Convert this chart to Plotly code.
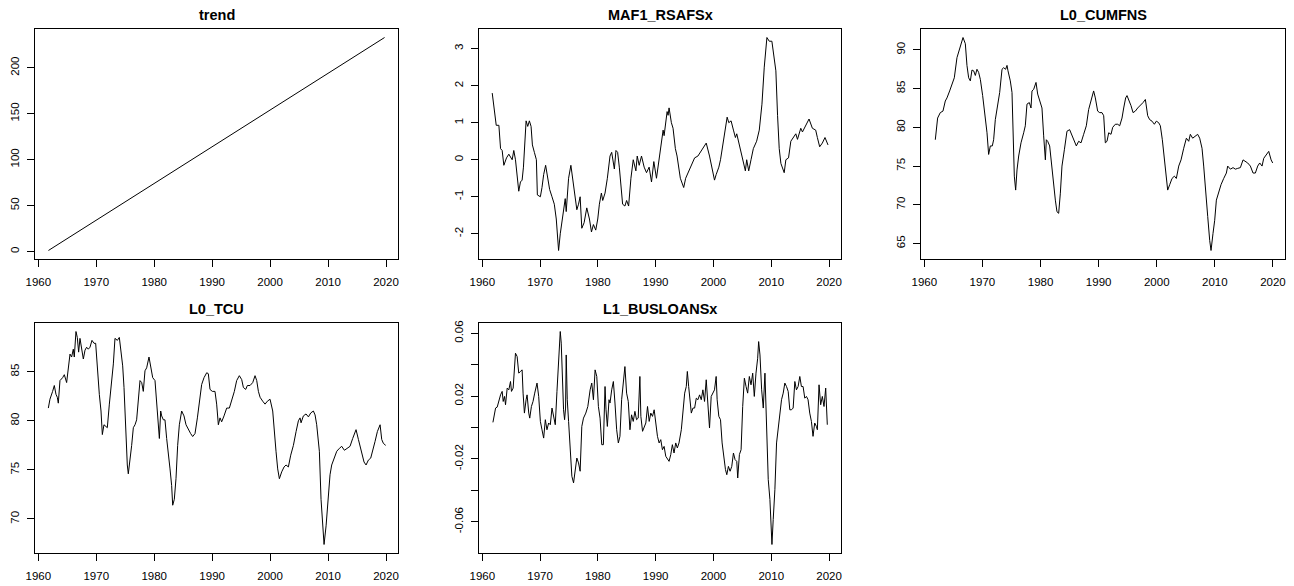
import plotly.graph_objects as go

# ---- data (decimal years, values) ----

# trend: quarterly index 1..233 from 1961Q4
trend_years = [1961.75 + 0.25 * i for i in range(233)]
trend_vals = list(range(1, 234))

maf_years = [1961.72, 1962.12, 1962.41, 1962.87, 1963.16, 1963.44, 1963.73, 1964.19, 1964.59, 1965.17,
             1965.45, 1965.74, 1965.91, 1966.14, 1966.31, 1966.60, 1966.89, 1967.12, 1967.35, 1967.58,
             1967.86, 1968.15, 1968.44, 1968.67, 1969.01, 1969.36, 1969.53, 1970.05, 1970.33, 1970.62,
             1970.96, 1971.31, 1971.65, 1972.06, 1972.46, 1972.80, 1973.03, 1973.20, 1973.49, 1973.83,
             1974.18, 1974.35, 1974.52, 1974.75, 1974.93, 1975.33, 1975.67, 1975.90, 1976.36, 1976.65,
             1976.93, 1977.22, 1977.62, 1978.08, 1978.54, 1978.89, 1979.23, 1979.63, 1979.98, 1980.26,
             1980.61, 1980.84, 1981.24, 1981.64, 1982.10, 1982.39, 1982.85, 1983.13, 1983.42, 1983.71,
             1984.05, 1984.28, 1984.68, 1984.97, 1985.32, 1985.43, 1985.72, 1986.12, 1986.58, 1986.81,
             1987.15, 1987.55, 1988.01, 1988.42, 1988.87, 1989.28, 1989.68, 1990.14, 1990.54, 1990.88,
             1991.29, 1991.46, 1991.86, 1991.98, 1992.15, 1992.32, 1992.72, 1993.01, 1993.41, 1993.70,
             1994.27, 1994.85, 1995.19, 1995.59, 1995.99, 1996.74, 1997.31, 1997.89, 1998.75, 1999.32,
             1999.78, 2000.18, 2000.47, 2000.93, 2001.22, 2001.62, 2001.91, 2002.37, 2002.65, 2003.05,
             2003.46, 2003.80, 2004.03, 2004.60, 2005.06, 2005.52, 2005.75, 2006.10, 2006.50, 2006.90,
             2007.47, 2007.93, 2008.39, 2008.79, 2009.25, 2009.66, 2010.11, 2010.40, 2010.80, 2011.09,
             2011.38, 2011.67, 2011.95, 2012.24, 2012.53, 2012.99, 2013.39, 2013.79, 2014.25, 2014.54,
             2015.11, 2015.40, 2015.97, 2016.54, 2017.12, 2017.69, 2017.98, 2018.38, 2018.84, 2019.30,
             2019.82]
maf_vals = [1.8, 1.2, 0.93, 0.93, 0.3, 0.25, -0.15, 0.05, 0.15, 0.0,
            0.25, 0.0, -0.3, -0.6, -0.85, -0.6, -0.55, -0.2, 0.6, 1.05,
            0.9, 1.05, 0.9, 0.4, 0.2, 0.0, -0.95, -1.0, -0.75, -0.4,
            -0.15, -0.5, -0.8, -1.0, -1.2, -1.6, -2.1, -2.45, -2.0, -1.6,
            -1.2, -1.05, -1.4, -0.9, -0.5, -0.15, -0.6, -0.8, -1.35, -1.2,
            -1.0, -1.85, -1.7, -1.3, -1.6, -1.95, -1.75, -1.9, -1.6, -1.2,
            -0.9, -1.1, -0.9, -0.5, 0.1, 0.2, -0.25, 0.25, 0.2, -0.2,
            -0.8, -1.2, -1.25, -1.1, -1.25, -1.0, -0.5, 0.0, -0.3, 0.1,
            -0.15, 0.1, -0.2, -0.35, -0.2, -0.6, -0.05, -0.5, 0.0, 0.3,
            0.8, 0.65, 1.1, 1.3, 1.2, 1.4, 1.0, 0.85, 0.3, 0.1,
            -0.5, -0.75, -0.5, -0.35, -0.2, 0.05, 0.1, 0.25, 0.45, 0.1,
            -0.3, -0.55, -0.4, -0.2, 0.0, 0.4, 0.6, 1.15, 1.0, 1.05,
            0.8, 0.6, 0.7, 0.3, -0.05, -0.3, 0.0, -0.3, 0.0, 0.3,
            0.5, 0.8, 1.5, 2.5, 3.3, 3.2, 3.2, 2.8, 2.4, 1.2,
            0.3, -0.1, -0.2, -0.35, 0.0, 0.05, 0.5, 0.6, 0.7, 0.55,
            0.85, 0.75, 0.95, 1.1, 0.85, 0.8, 0.6, 0.35, 0.45, 0.6,
            0.4]

cumfns_years = [1961.89, 1962.29, 1962.75, 1963.21, 1963.61, 1963.90, 1964.36, 1964.76, 1965.16, 1965.62,
                1966.02, 1966.37, 1966.66, 1967.06, 1967.34, 1967.63, 1967.92, 1968.20, 1968.49, 1968.78,
                1969.06, 1969.35, 1969.64, 1970.04, 1970.38, 1970.79, 1971.07, 1971.36, 1971.70, 1971.93,
                1972.22, 1972.51, 1972.97, 1973.37, 1973.65, 1974.00, 1974.23, 1974.40, 1974.80, 1975.09,
                1975.26, 1975.49, 1975.72, 1975.95, 1976.24, 1976.64, 1977.10, 1977.38, 1977.67, 1978.07,
                1978.36, 1978.53, 1978.82, 1979.22, 1979.51, 1979.85, 1980.25, 1980.54, 1980.83, 1981.00,
                1981.23, 1981.57, 1981.80, 1982.15, 1982.55, 1982.83, 1983.12, 1983.41, 1983.69, 1984.10,
                1984.55, 1985.01, 1985.42, 1985.82, 1986.16, 1986.56, 1986.97, 1987.42, 1987.88, 1988.28,
                1988.74, 1989.14, 1989.43, 1989.83, 1990.18, 1990.58, 1990.87, 1991.15, 1991.44, 1991.73,
                1992.13, 1992.42, 1992.87, 1993.28, 1993.62, 1994.02, 1994.31, 1994.65, 1994.88, 1995.17,
                1995.57, 1995.92, 1996.32, 1996.72, 1997.18, 1997.64, 1998.04, 1998.44, 1998.78, 1999.18,
                1999.59, 1999.93, 2000.33, 2000.62, 2000.96, 2001.31, 2001.65, 2001.88, 2002.23, 2002.63,
                2003.03, 2003.37, 2003.78, 2004.18, 2004.64, 2005.10, 2005.50, 2005.78, 2006.18, 2006.64,
                2007.04, 2007.39, 2007.79, 2008.08, 2008.37, 2008.77, 2009.11, 2009.34, 2009.68, 2009.97,
                2010.26, 2010.66, 2011.06, 2011.52, 2011.98, 2012.21, 2012.67, 2013.13, 2013.53, 2013.93,
                2014.39, 2014.85, 2015.25, 2015.65, 2016.11, 2016.57, 2016.97, 2017.37, 2017.72, 2018.12,
                2018.41, 2018.87, 2019.27, 2019.68, 2019.95]
cumfns_vals = [78.4, 81.2, 81.9, 82.1, 83.4, 83.8, 84.7, 85.6, 86.4, 89.0,
               89.9, 90.8, 91.6, 90.8, 88.0, 86.4, 86.0, 87.4, 87.3, 86.7,
               87.5, 87.1, 86.2, 84.1, 81.9, 79.3, 76.5, 77.6, 77.6, 78.4,
               81.0, 82.5, 84.5, 87.5, 87.7, 87.5, 88.0, 87.3, 86.0, 84.5,
               79.3, 73.7, 71.9, 74.5, 76.3, 78.0, 79.3, 80.2, 83.0, 83.2,
               82.5, 84.7, 84.9, 85.8, 84.3, 83.4, 82.5, 78.9, 75.8, 78.4,
               78.2, 77.6, 75.8, 73.2, 70.6, 69.1, 68.9, 71.5, 75.0, 77.1,
               79.5, 79.7, 78.9, 78.0, 77.6, 78.2, 78.0, 79.1, 80.2, 82.3,
               83.8, 84.7, 83.8, 82.1, 81.9, 81.9, 81.5, 78.0, 78.2, 79.3,
               79.1, 80.0, 80.4, 80.4, 80.2, 81.2, 82.5, 83.8, 84.1, 83.6,
               82.8, 81.9, 82.1, 82.5, 82.8, 83.2, 83.6, 81.5, 81.0, 80.8,
               80.4, 80.8, 80.6, 80.2, 78.4, 75.8, 73.2, 71.9, 72.6, 73.4,
               73.7, 73.4, 75.0, 75.8, 77.3, 78.6, 78.2, 79.1, 78.6, 78.9,
               79.1, 78.6, 77.3, 75.0, 71.9, 68.5, 65.4, 64.1, 66.3, 68.0,
               70.6, 71.7, 72.6, 73.4, 74.1, 75.0, 74.6, 74.8, 74.6, 74.7,
               74.8, 75.8, 75.6, 75.4, 75.0, 74.1, 74.1, 75.0, 75.4, 75.0,
               76.0, 76.5, 76.9, 75.8, 75.4]

tcu_years = [1961.73, 1962.01, 1962.47, 1962.76, 1963.05, 1963.28, 1963.45, 1963.74, 1964.20, 1964.49,
             1964.89, 1965.18, 1965.47, 1965.75, 1966.04, 1966.21, 1966.50, 1966.73, 1966.96, 1967.19,
             1967.48, 1967.77, 1968.06, 1968.34, 1968.63, 1968.92, 1969.26, 1969.61, 1969.90, 1970.18,
             1970.53, 1970.82, 1971.05, 1971.33, 1971.68, 1971.91, 1972.26, 1972.66, 1972.95, 1973.23,
             1973.64, 1973.98, 1974.21, 1974.56, 1974.79, 1975.07, 1975.36, 1975.53, 1975.82, 1976.11,
             1976.40, 1976.69, 1976.97, 1977.26, 1977.55, 1977.84, 1978.12, 1978.41, 1978.70, 1979.10,
             1979.39, 1979.74, 1980.14, 1980.43, 1980.66, 1980.89, 1981.12, 1981.29, 1981.58, 1981.86,
             1982.15, 1982.44, 1982.73, 1983.01, 1983.19, 1983.47, 1983.76, 1984.05, 1984.34, 1984.74,
             1985.14, 1985.49, 1985.89, 1986.29, 1986.64, 1987.04, 1987.45, 1987.79, 1988.19, 1988.60,
             1989.06, 1989.34, 1989.63, 1990.03, 1990.49, 1990.78, 1991.07, 1991.36, 1991.64, 1992.05,
             1992.51, 1992.97, 1993.37, 1993.83, 1994.23, 1994.69, 1995.10, 1995.39, 1995.79, 1996.08,
             1996.54, 1997.00, 1997.40, 1997.69, 1997.98, 1998.27, 1998.72, 1999.13, 1999.53, 1999.99,
             2000.45, 2000.68, 2001.02, 2001.31, 2001.60, 2002.00, 2002.41, 2002.75, 2003.15, 2003.56,
             2004.02, 2004.48, 2004.88, 2005.17, 2005.34, 2005.74, 2006.20, 2006.61, 2007.01, 2007.47,
             2007.76, 2008.04, 2008.50, 2008.79, 2009.08, 2009.31, 2009.66, 2010.06, 2010.34, 2010.63,
             2011.04, 2011.50, 2011.96, 2012.36, 2012.82, 2013.22, 2013.79, 2014.25, 2014.83, 2015.24,
             2015.81, 2016.21, 2016.56, 2016.96, 2017.36, 2017.71, 2018.11, 2018.51, 2018.98, 2019.26,
             2019.55, 2019.95]
tcu_vals = [81.3, 82.2, 83.0, 83.6, 82.7, 82.4, 81.8, 84.1, 84.4, 84.7,
            83.9, 85.4, 86.8, 86.5, 87.3, 86.5, 89.1, 88.5, 87.0, 88.4,
            87.2, 86.3, 87.2, 87.5, 87.3, 87.5, 88.2, 87.9, 87.9, 85.4,
            82.7, 81.0, 78.6, 79.6, 79.4, 79.3, 81.7, 83.9, 85.8, 88.4,
            88.2, 88.5, 87.3, 85.6, 83.4, 78.9, 75.5, 74.6, 75.8, 77.5,
            79.3, 79.6, 80.1, 82.0, 84.1, 83.9, 83.0, 85.1, 85.4, 86.5,
            85.6, 84.4, 84.1, 82.0, 79.6, 78.2, 81.0, 80.5, 80.1, 80.1,
            78.2, 76.9, 75.1, 73.4, 71.4, 72.0, 74.1, 77.5, 79.6, 81.0,
            80.5, 79.6, 79.1, 78.7, 78.4, 78.7, 80.3, 82.0, 83.7, 84.4,
            84.9, 84.8, 83.2, 83.0, 83.0, 81.7, 79.6, 80.3, 79.9, 80.5,
            81.3, 81.3, 82.0, 83.0, 84.1, 84.6, 84.2, 83.4, 83.2, 83.6,
            83.6, 83.9, 84.6, 84.1, 83.0, 82.4, 82.0, 81.7, 82.0, 82.2,
            81.0, 78.9, 76.9, 75.1, 74.1, 74.8, 75.3, 75.5, 75.3, 76.5,
            77.5, 78.9, 80.0, 80.3, 79.8, 80.5, 80.7, 80.4, 80.8, 81.0,
            80.6, 79.6, 76.9, 72.0, 69.3, 67.4, 69.3, 72.7, 74.5, 75.5,
            76.2, 76.9, 77.2, 77.4, 77.0, 77.2, 77.4, 78.2, 79.1, 78.1,
            76.9, 75.8, 75.5, 76.0, 76.2, 76.9, 77.9, 78.9, 79.6, 78.1,
            77.7, 77.5]

busloans_years = [1961.84, 1962.12, 1962.30, 1962.58, 1962.87, 1963.16, 1963.44, 1963.62, 1963.85, 1964.02,
                  1964.31, 1964.59, 1964.88, 1965.05, 1965.34, 1965.57, 1965.74, 1966.03, 1966.31, 1966.60,
                  1966.89, 1967.06, 1967.29, 1967.58, 1967.75, 1968.04, 1968.21, 1968.50, 1968.78, 1969.07,
                  1969.47, 1969.76, 1970.05, 1970.33, 1970.62, 1970.91, 1971.19, 1971.48, 1971.77, 1972.06,
                  1972.34, 1972.63, 1972.92, 1973.09, 1973.32, 1973.49, 1973.66, 1973.89, 1974.06, 1974.24,
                  1974.41, 1974.52, 1974.70, 1974.93, 1975.21, 1975.50, 1975.79, 1976.07, 1976.36, 1976.65,
                  1976.93, 1977.22, 1977.51, 1977.91, 1978.26, 1978.66, 1978.94, 1979.23, 1979.52, 1979.81,
                  1980.09, 1980.38, 1980.67, 1980.95, 1981.24, 1981.41, 1981.64, 1981.93, 1982.10, 1982.39,
                  1982.68, 1982.96, 1983.25, 1983.54, 1983.82, 1984.11, 1984.40, 1984.68, 1984.97, 1985.26,
                  1985.55, 1985.83, 1986.12, 1986.41, 1986.69, 1986.98, 1987.27, 1987.44, 1987.73, 1988.01,
                  1988.30, 1988.59, 1988.88, 1989.16, 1989.45, 1989.74, 1990.02, 1990.31, 1990.60, 1990.88,
                  1991.17, 1991.46, 1991.75, 1992.03, 1992.32, 1992.61, 1992.89, 1993.18, 1993.47, 1993.75,
                  1994.04, 1994.44, 1994.73, 1995.02, 1995.30, 1995.48, 1995.71, 1995.99, 1996.17, 1996.45,
                  1996.74, 1997.03, 1997.31, 1997.60, 1997.89, 1998.17, 1998.46, 1998.75, 1999.04, 1999.32,
                  1999.61, 1999.90, 2000.18, 2000.47, 2000.64, 2000.93, 2001.22, 2001.50, 2001.79, 2002.08,
                  2002.31, 2002.59, 2002.88, 2003.17, 2003.46, 2003.74, 2004.03, 2004.20, 2004.49, 2004.78,
                  2005.06, 2005.35, 2005.64, 2005.92, 2006.21, 2006.50, 2006.79, 2007.07, 2007.36, 2007.65,
                  2007.82, 2008.05, 2008.34, 2008.62, 2008.91, 2009.20, 2009.48, 2009.77, 2009.94, 2010.12,
                  2010.34, 2010.63, 2010.92, 2011.21, 2011.49, 2011.78, 2012.07, 2012.35, 2012.64, 2012.93,
                  2013.21, 2013.50, 2013.79, 2014.08, 2014.36, 2014.65, 2014.94, 2015.22, 2015.51, 2015.80,
                  2016.09, 2016.37, 2016.66, 2016.95, 2017.23, 2017.52, 2017.81, 2017.98, 2018.27, 2018.55,
                  2018.84, 2019.13, 2019.42, 2019.70]
busloans_vals = [0.0033, 0.0081, 0.0124, 0.013, 0.0177, 0.0208, 0.023, 0.0166, 0.0198, 0.0145,
                 0.0251, 0.024, 0.0293, 0.023, 0.0251, 0.0367, 0.0473, 0.0452, 0.0346, 0.0357,
                 0.0367, 0.0219, 0.0092, 0.0177, 0.0208, 0.0092, 0.006, 0.0134, 0.0166, 0.0219,
                 0.0283, 0.0198, 0.0039, -0.0014, -0.0067, 0.005, -0.0014, 0.0029, 0.0018, 0.0124,
                 0.0081, 0.0018, 0.023, 0.0335, 0.0494, 0.0611, 0.0537, 0.024, 0.0113, 0.005,
                 0.0124, 0.0462, 0.0177, 0.0039, -0.012, -0.031, -0.0352, -0.0278, -0.0194, -0.0225,
                 -0.0278, 0.0007, 0.006, 0.0092, 0.0134, 0.024, 0.0283, 0.0177, 0.0367, 0.0325,
                 0.0134, 0.006, -0.0109, -0.0109, 0.0261, 0.0113, 0.0007, 0.0177, 0.0156, 0.024,
                 0.0293, 0.0156, -0.0014, -0.0098, -0.0056, 0.0177, 0.0304, 0.0388, 0.0219, 0.0166,
                 -0.0014, 0.0081, 0.0039, 0.0103, 0.005, 0.006, 0.0325, 0.0071, -0.0024, 0.0007,
                 0.0029, 0.0134, 0.0039, 0.0092, 0.0071, 0.0113, 0.0029, -0.0056, -0.0098, -0.0077,
                 -0.0141, -0.012, -0.0183, -0.0204, -0.0215, -0.0172, -0.0109, -0.0162, -0.0098, -0.013,
                 -0.0098, -0.0014, 0.0134, 0.0219, 0.0261, 0.0357, 0.0261, 0.0156, 0.0092, 0.0124,
                 0.0124, 0.0187, 0.0177, 0.0208, 0.0177, 0.024, 0.0166, 0.0304, 0.0156, -0.0003,
                 0.0198, 0.0219, 0.024, 0.0325, 0.0177, 0.0071, 0.005, -0.0098, -0.0204, -0.0268,
                 -0.03, -0.0247, -0.0278, -0.0247, -0.0162, -0.0204, -0.0215, -0.0321, -0.0172, -0.0141,
                 0.0134, 0.0314, 0.0261, 0.0219, 0.0325, 0.0272, 0.0346, 0.0198, 0.0346, 0.0441,
                 0.0547, 0.0462, 0.024, 0.0124, 0.0346, 0.0029, -0.0331, -0.0458, -0.0606, -0.0744,
                 -0.0585, -0.0395, -0.0098, -0.0014, 0.0071, 0.0177, 0.0219, 0.0283, 0.0261, 0.023,
                 0.0113, 0.0113, 0.0124, 0.0293, 0.024, 0.0261, 0.0325, 0.0261, 0.0261, 0.0187,
                 0.0198, 0.0177, 0.0092, 0.0039, -0.0056, 0.0029, 0.0007, -0.0014, 0.0272, 0.0145,
                 0.0198, 0.0134, 0.0251, 0.0018]

year_ticks = [1960, 1970, 1980, 1990, 2000, 2010, 2020]

panels = [
    ("trend", trend_years, trend_vals, [0, 50, 100, 150, 200], ["0", "50", "100", "150", "200"]),
    ("MAF1_RSAFSx", maf_years, maf_vals, [-2, -1, 0, 1, 2, 3], ["-2", "-1", "0", "1", "2", "3"]),
    ("L0_CUMFNS", cumfns_years, cumfns_vals, [65, 70, 75, 80, 85, 90], ["65", "70", "75", "80", "85", "90"]),
    ("L0_TCU", tcu_years, tcu_vals, [70, 75, 80, 85], ["70", "75", "80", "85"]),
    ("L1_BUSLOANSx", busloans_years, busloans_vals,
     [-0.06, -0.04, -0.02, 0, 0.02, 0.04, 0.06], ["-0.06", "", "-0.02", "", "0.02", "", "0.06"]),
]

# the page body adds an 8px margin, so the figure is drawn 8px smaller
# and every pixel position below is the reference position minus 8
OFF = 8
W, H = 1294 - OFF, 586 - OFF
cols = [(35, 398), (479, 841), (921, 1285)]
rows = [(29, 259), (323, 553)]

FONT = "Liberation Sans, Arial, sans-serif"

fig = go.Figure()
layout = dict(
    width=W, height=H,
    margin=dict(l=0, r=0, t=0, b=0, pad=0),
    paper_bgcolor="white", plot_bgcolor="white",
    showlegend=False,
    font=dict(family=FONT, color="black"),
    annotations=[],
)


def pad(lo, hi):
    d = (hi - lo) * 0.04
    return [lo - d, hi + d]


for i, (name, xs, ys, tv, tt) in enumerate(panels):
    r, c = divmod(i, 3)
    x0, x1 = cols[c][0] - OFF, cols[c][1] - OFF
    y0, y1 = rows[r][0] - OFF, rows[r][1] - OFF
    k = "" if i == 0 else str(i + 1)
    fig.add_trace(go.Scatter(x=xs, y=ys, mode="lines",
                             line=dict(color="black", width=1),
                             xaxis="x" + k, yaxis="y" + k, hoverinfo="x+y"))
    layout["xaxis" + k] = dict(
        domain=[x0 / W, x1 / W], anchor="y" + k,
        range=[1959.43, 2022.07], tickvals=year_ticks,
        ticktext=[str(t) for t in year_ticks],
        ticks="outside", ticklen=7, tickcolor="black", tickwidth=1,
        showline=True, mirror=True, linecolor="black", linewidth=1,
        showgrid=False, zeroline=False, automargin=False,
        tickfont=dict(size=11.5, color="black"), ticklabelstandoff=5,
    )
    layout["yaxis" + k] = dict(
        domain=[1 - y1 / H, 1 - y0 / H], anchor="x" + k,
        range=pad(min(ys), max(ys)), tickvals=tv, ticktext=tt, tickangle=-90,
        ticks="outside", ticklen=7, tickcolor="black", tickwidth=1,
        showline=True, mirror=True, linecolor="black", linewidth=1,
        showgrid=False, zeroline=False, automargin=False,
        tickfont=dict(size=11.5, color="black"), ticklabelstandoff=3,
    )
    layout["annotations"].append(dict(
        text="<b>%s</b>" % name, xref="paper", yref="paper",
        x=(x0 + x1) / 2 / W, y=1 - (y0 - 14) / H,
        xanchor="center", yanchor="middle", showarrow=False,
        font=dict(size=14.5, family=FONT, color="black"),
    ))

fig.update_layout(**layout)
fig.write_html("out.html")
